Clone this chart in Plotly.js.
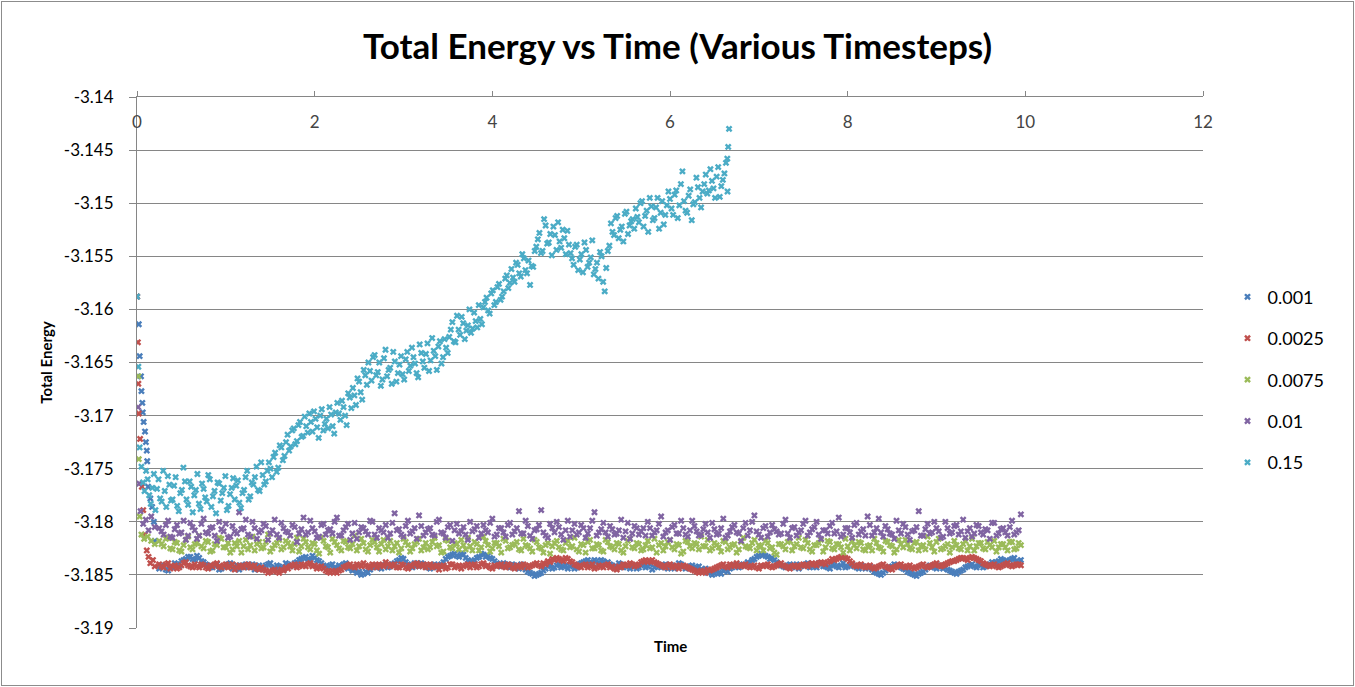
<!DOCTYPE html>
<html>
<head>
<meta charset="utf-8">
<script src="https://cdn.plot.ly/plotly-3.0.1.min.js"></script>
<style>
  body { margin: 0; background: #fff; }
  #chart { position: absolute; left: 0; top: 0; width: 1355px; height: 687px; }
  #frame { position: absolute; left: 1px; top: 1px; width: 1351px; height: 683px; border: 1px solid #8c8c8c; pointer-events: none; }
</style>
</head>
<body>
<div id="chart"></div>
<div id="frame"></div>
<script>
  // legend names (timestep used for each run)
  const names = ['0.001', '0.0025', '0.0075', '0.01', '0.15'];
  const colors = ['#4A7EBB', '#C0504D', '#9BBB59', '#8064A2', '#4BACC6'];

  // start-up transient, read point by point (time, energy)
  const t001Head = [0, 0.02, 0.03, 0.045, 0.05, 0.06, 0.065, 0.075, 0.09, 0.1, 0.11, 0.115, 0.125, 0.15, 0.17, 0.19, 0.2];
  const e001Head = [-3.1588, -3.1614, -3.1644, -3.1663, -3.1677, -3.1688, -3.1697, -3.1706, -3.1715, -3.1725, -3.1733, -3.1743, -3.1767, -3.1778, -3.1786, -3.1800, -3.1818];
  const t0025Head = [0, 0.01, 0.015, 0.02, 0.035, 0.055, 0.07, 0.09, 0.11, 0.13, 0.15, 0.18, 0.2];
  const e0025Head = [-3.1588, -3.1631, -3.1670, -3.1698, -3.1722, -3.1767, -3.1789, -3.1812, -3.1827, -3.1833, -3.1839, -3.1836, -3.1842];
  const t0075Head = [0, 0.015, 0.02, 0.03, 0.05, 0.08, 0.12, 0.16, 0.2];
  const e0075Head = [-3.1588, -3.1663, -3.1741, -3.1795, -3.1812, -3.1816, -3.1814, -3.1818, -3.1821];
  const t01Head = [0, 0.012, 0.025, 0.04, 0.07, 0.1, 0.13, 0.16, 0.2];
  const e01Head = [-3.1588, -3.1692, -3.1764, -3.1790, -3.1802, -3.1798, -3.1808, -3.1795, -3.1805];
  const t15Head = [0, 0.015, 0.03];
  const e15Head = [-3.1588, -3.1654, -3.1730];
  const t15Tail = [6.645, 6.655, 6.665];
  const e15Tail = [-3.1458, -3.1447, -3.1430];

  // sampled runs: flat runs every 0.05 from t = 0.25 (plus the in-between samples),
  // the 0.15 run every 0.035 from t = 0.05 (plus the in-between samples)
  const flatStart = 0.25, flatStep = 0.05;
  const fastStart = 0.05, fastStep = 0.035;

  const e001 = [
    -3.1844, -3.1842, -3.1846, -3.1843, -3.1840, -3.1837, -3.1835, -3.1833, -3.1836, -3.1834,
    -3.1838, -3.1841, -3.1843, -3.1840, -3.1844, -3.1842, -3.1839, -3.1843, -3.1845, -3.1841,
    -3.1843, -3.1840, -3.1842, -3.1844, -3.1841, -3.1839, -3.1843, -3.1842, -3.1845, -3.1840,
    -3.1841, -3.1838, -3.1835, -3.1833, -3.1836, -3.1834, -3.1837, -3.1841, -3.1843, -3.1840,
    -3.1844, -3.1842, -3.1839, -3.1843, -3.1845, -3.1847, -3.1849, -3.1848, -3.1843, -3.1841,
    -3.1844, -3.1840, -3.1842, -3.1839, -3.1836, -3.1835, -3.1840, -3.1843, -3.1841, -3.1839,
    -3.1842, -3.1844, -3.1840, -3.1842, -3.1838, -3.1833, -3.1831, -3.1832, -3.1830, -3.1834,
    -3.1838, -3.1836, -3.1833, -3.1831, -3.1832, -3.1835, -3.1839, -3.1842, -3.1840, -3.1843,
    -3.1841, -3.1844, -3.1842, -3.1847, -3.1849, -3.1850, -3.1848, -3.1844, -3.1841, -3.1843,
    -3.1840, -3.1842, -3.1844, -3.1841, -3.1843, -3.1839, -3.1837, -3.1838, -3.1836, -3.1839,
    -3.1837, -3.1838, -3.1841, -3.1843, -3.1840, -3.1842, -3.1844, -3.1841, -3.1843, -3.1840,
    -3.1842, -3.1845, -3.1841, -3.1843, -3.1840, -3.1842, -3.1844, -3.1839, -3.1842, -3.1843,
    -3.1841, -3.1843, -3.1845, -3.1844, -3.1847, -3.1849, -3.1848, -3.1846, -3.1847, -3.1843,
    -3.1840, -3.1842, -3.1841, -3.1839, -3.1835, -3.1832, -3.1831, -3.1833, -3.1834, -3.1838,
    -3.1841, -3.1843, -3.1840, -3.1842, -3.1844, -3.1841, -3.1839, -3.1842, -3.1843, -3.1840,
    -3.1842, -3.1844, -3.1841, -3.1843, -3.1839, -3.1842, -3.1840, -3.1843, -3.1841, -3.1844,
    -3.1842, -3.1847, -3.1849, -3.1848, -3.1844, -3.1842, -3.1841, -3.1843, -3.1845, -3.1848,
    -3.1850, -3.1849, -3.1847, -3.1843, -3.1842, -3.1844, -3.1841, -3.1843, -3.1846, -3.1848,
    -3.1847, -3.1845, -3.1842, -3.1840, -3.1843, -3.1841, -3.1842, -3.1840, -3.1839, -3.1837,
    -3.1836, -3.1838, -3.1835, -3.1837, -3.1836
  ];
  const e001Mid = [
    -3.1841, -3.1845, -3.1843, -3.1839, -3.1842, -3.1836, -3.1833, -3.1835, -3.1832, -3.1837,
    -3.1840, -3.1843, -3.1841, -3.1845, -3.1842, -3.1840, -3.1844, -3.1841, -3.1843, -3.1840,
    -3.1842, -3.1845, -3.1841, -3.1843, -3.1840, -3.1844, -3.1841, -3.1843, -3.1839, -3.1842,
    -3.1839, -3.1836, -3.1834, -3.1835, -3.1832, -3.1836, -3.1839, -3.1842, -3.1841, -3.1843,
    -3.1841, -3.1840, -3.1844, -3.1846, -3.1848, -3.1850, -3.1847, -3.1845, -3.1842, -3.1843,
    -3.1841, -3.1843, -3.1840, -3.1837, -3.1834, -3.1838, -3.1842, -3.1839, -3.1842, -3.1840,
    -3.1843, -3.1841, -3.1843, -3.1840, -3.1835, -3.1832, -3.1830, -3.1833, -3.1831, -3.1836,
    -3.1837, -3.1834, -3.1830, -3.1833, -3.1834, -3.1837, -3.1841, -3.1839, -3.1842, -3.1840,
    -3.1843, -3.1840, -3.1845, -3.1848, -3.1851, -3.1849, -3.1846, -3.1842, -3.1844, -3.1841,
    -3.1843, -3.1841, -3.1842, -3.1844, -3.1840, -3.1838, -3.1836, -3.1839, -3.1837, -3.1836,
    -3.1839, -3.1840, -3.1842, -3.1839, -3.1843, -3.1841, -3.1842, -3.1844, -3.1841, -3.1843,
    -3.1840, -3.1843, -3.1842, -3.1841, -3.1844, -3.1841, -3.1842, -3.1840, -3.1844, -3.1842,
    -3.1844, -3.1842, -3.1846, -3.1848, -3.1850, -3.1847, -3.1849, -3.1845, -3.1844, -3.1841,
    -3.1843, -3.1840, -3.1838, -3.1836, -3.1833, -3.1830, -3.1832, -3.1835, -3.1836, -3.1840,
    -3.1842, -3.1841, -3.1843, -3.1840, -3.1842, -3.1840, -3.1843, -3.1841, -3.1839, -3.1842,
    -3.1843, -3.1840, -3.1842, -3.1841, -3.1843, -3.1841, -3.1842, -3.1844, -3.1842, -3.1843,
    -3.1845, -3.1848, -3.1850, -3.1846, -3.1843, -3.1840, -3.1842, -3.1844, -3.1847, -3.1849,
    -3.1851, -3.1848, -3.1845, -3.1841, -3.1843, -3.1842, -3.1844, -3.1845, -3.1847, -3.1849,
    -3.1846, -3.1843, -3.1841, -3.1842, -3.1840, -3.1843, -3.1841, -3.1838, -3.1838, -3.1835,
    -3.1837, -3.1836, -3.1834, -3.1838
  ];

  const e0025 = [
    -3.1840, -3.1843, -3.1839, -3.1842, -3.1844, -3.1841, -3.1838, -3.1842, -3.1840, -3.1843,
    -3.1841, -3.1844, -3.1842, -3.1839, -3.1843, -3.1840, -3.1842, -3.1845, -3.1841, -3.1843,
    -3.1840, -3.1842, -3.1844, -3.1843, -3.1846, -3.1847, -3.1845, -3.1848, -3.1846, -3.1844,
    -3.1841, -3.1843, -3.1840, -3.1842, -3.1839, -3.1841, -3.1843, -3.1844, -3.1847, -3.1846,
    -3.1848, -3.1845, -3.1842, -3.1840, -3.1843, -3.1841, -3.1839, -3.1842, -3.1840, -3.1843,
    -3.1841, -3.1838, -3.1842, -3.1840, -3.1843, -3.1841, -3.1844, -3.1842, -3.1839, -3.1841,
    -3.1843, -3.1840, -3.1842, -3.1845, -3.1841, -3.1843, -3.1840, -3.1842, -3.1844, -3.1841,
    -3.1843, -3.1840, -3.1842, -3.1839, -3.1841, -3.1844, -3.1842, -3.1840, -3.1843, -3.1841,
    -3.1844, -3.1842, -3.1840, -3.1843, -3.1841, -3.1839, -3.1842, -3.1840, -3.1838, -3.1836,
    -3.1835, -3.1837, -3.1835, -3.1838, -3.1841, -3.1843, -3.1840, -3.1842, -3.1844, -3.1841,
    -3.1843, -3.1840, -3.1842, -3.1845, -3.1843, -3.1841, -3.1839, -3.1842, -3.1840, -3.1837,
    -3.1838, -3.1836, -3.1839, -3.1841, -3.1843, -3.1840, -3.1842, -3.1844, -3.1841, -3.1843,
    -3.1845, -3.1847, -3.1846, -3.1848, -3.1846, -3.1844, -3.1842, -3.1840, -3.1843, -3.1841,
    -3.1839, -3.1842, -3.1840, -3.1843, -3.1841, -3.1844, -3.1842, -3.1840, -3.1843, -3.1841,
    -3.1839, -3.1842, -3.1844, -3.1841, -3.1843, -3.1840, -3.1842, -3.1839, -3.1841, -3.1838,
    -3.1840, -3.1837, -3.1836, -3.1834, -3.1833, -3.1835, -3.1839, -3.1842, -3.1840, -3.1843,
    -3.1841, -3.1844, -3.1842, -3.1840, -3.1843, -3.1845, -3.1842, -3.1840, -3.1843, -3.1841,
    -3.1844, -3.1842, -3.1840, -3.1843, -3.1841, -3.1839, -3.1842, -3.1840, -3.1838, -3.1837,
    -3.1835, -3.1834, -3.1836, -3.1833, -3.1835, -3.1837, -3.1840, -3.1842, -3.1840, -3.1843,
    -3.1841, -3.1839, -3.1842, -3.1840, -3.1841
  ];
  const e0025Mid = [
    -3.1842, -3.1840, -3.1844, -3.1841, -3.1843, -3.1839, -3.1841, -3.1843, -3.1842, -3.1840,
    -3.1843, -3.1841, -3.1840, -3.1842, -3.1841, -3.1843, -3.1840, -3.1843, -3.1842, -3.1841,
    -3.1843, -3.1841, -3.1845, -3.1845, -3.1848, -3.1846, -3.1847, -3.1845, -3.1843, -3.1842,
    -3.1840, -3.1842, -3.1841, -3.1840, -3.1842, -3.1844, -3.1842, -3.1846, -3.1848, -3.1847,
    -3.1846, -3.1843, -3.1841, -3.1842, -3.1840, -3.1842, -3.1841, -3.1843, -3.1841, -3.1840,
    -3.1842, -3.1840, -3.1841, -3.1843, -3.1840, -3.1843, -3.1841, -3.1840, -3.1842, -3.1840,
    -3.1841, -3.1843, -3.1841, -3.1842, -3.1844, -3.1840, -3.1843, -3.1841, -3.1842, -3.1840,
    -3.1841, -3.1843, -3.1840, -3.1842, -3.1843, -3.1841, -3.1841, -3.1842, -3.1840, -3.1843,
    -3.1841, -3.1843, -3.1841, -3.1842, -3.1840, -3.1841, -3.1839, -3.1837, -3.1835, -3.1834,
    -3.1836, -3.1834, -3.1837, -3.1840, -3.1842, -3.1841, -3.1843, -3.1840, -3.1843, -3.1842,
    -3.1841, -3.1843, -3.1844, -3.1842, -3.1840, -3.1841, -3.1840, -3.1841, -3.1838, -3.1836,
    -3.1837, -3.1838, -3.1840, -3.1842, -3.1841, -3.1843, -3.1841, -3.1842, -3.1842, -3.1844,
    -3.1846, -3.1848, -3.1847, -3.1845, -3.1845, -3.1843, -3.1841, -3.1842, -3.1840, -3.1842,
    -3.1841, -3.1841, -3.1842, -3.1842, -3.1843, -3.1841, -3.1841, -3.1842, -3.1842, -3.1840,
    -3.1841, -3.1843, -3.1842, -3.1842, -3.1841, -3.1841, -3.1840, -3.1840, -3.1839, -3.1839,
    -3.1838, -3.1835, -3.1835, -3.1833, -3.1834, -3.1837, -3.1841, -3.1841, -3.1842, -3.1842,
    -3.1843, -3.1843, -3.1841, -3.1842, -3.1844, -3.1843, -3.1841, -3.1842, -3.1842, -3.1843,
    -3.1843, -3.1841, -3.1842, -3.1842, -3.1840, -3.1841, -3.1841, -3.1839, -3.1837, -3.1836,
    -3.1834, -3.1835, -3.1834, -3.1834, -3.1836, -3.1839, -3.1841, -3.1841, -3.1842, -3.1842,
    -3.1840, -3.1841, -3.1841, -3.1840
  ];

  const e0075 = [
    -3.1818, -3.1823, -3.1815, -3.1826, -3.1820, -3.1828, -3.1817, -3.1824, -3.1821, -3.1813,
    -3.1825, -3.1819, -3.1827, -3.1822, -3.1816, -3.1824, -3.1829, -3.1820, -3.1818, -3.1823,
    -3.1826, -3.1814, -3.1821, -3.1825, -3.1819, -3.1828, -3.1822, -3.1817, -3.1824, -3.1820,
    -3.1827, -3.1815, -3.1823, -3.1819, -3.1826, -3.1821, -3.1830, -3.1818, -3.1824, -3.1816,
    -3.1822, -3.1827, -3.1819, -3.1825, -3.1813, -3.1823, -3.1820, -3.1828, -3.1817, -3.1824,
    -3.1821, -3.1826, -3.1818, -3.1823, -3.1829, -3.1816, -3.1822, -3.1825, -3.1819, -3.1827,
    -3.1820, -3.1824, -3.1815, -3.1822, -3.1828, -3.1818, -3.1825, -3.1821, -3.1817, -3.1826,
    -3.1823, -3.1819, -3.1827, -3.1814, -3.1822, -3.1825, -3.1820, -3.1829, -3.1818, -3.1824,
    -3.1821, -3.1826, -3.1816, -3.1823, -3.1828, -3.1819, -3.1825, -3.1822, -3.1830, -3.1820,
    -3.1824, -3.1827, -3.1818, -3.1823, -3.1826, -3.1821, -3.1829, -3.1817, -3.1825, -3.1822,
    -3.1828, -3.1819, -3.1824, -3.1820, -3.1827, -3.1823, -3.1816, -3.1825, -3.1821, -3.1826,
    -3.1818, -3.1824, -3.1829, -3.1820, -3.1823, -3.1817, -3.1826, -3.1822, -3.1828, -3.1819,
    -3.1825, -3.1821, -3.1814, -3.1823, -3.1827, -3.1820, -3.1824, -3.1818, -3.1826, -3.1822,
    -3.1829, -3.1819, -3.1823, -3.1825, -3.1817, -3.1822, -3.1827, -3.1820, -3.1824, -3.1831,
    -3.1821, -3.1826, -3.1818, -3.1823, -3.1815, -3.1825, -3.1820, -3.1828, -3.1822, -3.1817,
    -3.1824, -3.1819, -3.1826, -3.1821, -3.1829, -3.1823, -3.1818, -3.1825, -3.1820, -3.1827,
    -3.1822, -3.1816, -3.1824, -3.1828, -3.1819, -3.1823, -3.1826, -3.1821, -3.1817, -3.1825,
    -3.1820, -3.1827, -3.1822, -3.1814, -3.1824, -3.1819, -3.1826, -3.1823, -3.1829, -3.1818,
    -3.1825, -3.1821, -3.1827, -3.1816, -3.1823, -3.1820, -3.1826, -3.1822, -3.1818, -3.1824,
    -3.1821, -3.1827, -3.1819, -3.1825, -3.1822
  ];
  const e0075Mid = [
    -3.1821, -3.1816, -3.1825, -3.1819, -3.1827, -3.1822, -3.1814, -3.1826, -3.1820, -3.1823,
    -3.1818, -3.1828, -3.1821, -3.1815, -3.1824, -3.1820, -3.1826, -3.1823, -3.1829, -3.1817,
    -3.1822, -3.1827, -3.1819, -3.1824, -3.1812, -3.1825, -3.1820, -3.1826, -3.1818, -3.1823,
    -3.1821, -3.1828, -3.1816, -3.1824, -3.1820, -3.1827, -3.1815, -3.1823, -3.1829, -3.1819,
    -3.1825, -3.1818, -3.1824, -3.1821, -3.1827, -3.1816, -3.1826, -3.1822, -3.1819, -3.1828,
    -3.1817, -3.1823, -3.1827, -3.1820, -3.1825, -3.1819, -3.1828, -3.1821, -3.1816, -3.1824,
    -3.1826, -3.1819, -3.1823, -3.1829, -3.1817, -3.1824, -3.1820, -3.1826, -3.1822, -3.1815,
    -3.1827, -3.1821, -3.1824, -3.1818, -3.1828, -3.1820, -3.1823, -3.1816, -3.1825, -3.1822,
    -3.1819, -3.1827, -3.1822, -3.1825, -3.1817, -3.1824, -3.1829, -3.1820, -3.1823, -3.1818,
    -3.1826, -3.1820, -3.1824, -3.1815, -3.1828, -3.1822, -3.1819, -3.1825, -3.1821, -3.1827,
    -3.1817, -3.1823, -3.1826, -3.1821, -3.1829, -3.1818, -3.1824, -3.1820, -3.1827, -3.1822,
    -3.1825, -3.1816, -3.1822, -3.1827, -3.1819, -3.1824, -3.1821, -3.1830, -3.1818, -3.1823,
    -3.1820, -3.1826, -3.1823, -3.1817, -3.1825, -3.1822, -3.1828, -3.1819, -3.1824, -3.1821,
    -3.1826, -3.1815, -3.1824, -3.1820, -3.1827, -3.1823, -3.1818, -3.1825, -3.1829, -3.1821,
    -3.1823, -3.1819, -3.1827, -3.1821, -3.1824, -3.1817, -3.1826, -3.1822, -3.1820, -3.1828,
    -3.1818, -3.1825, -3.1821, -3.1824, -3.1816, -3.1827, -3.1822, -3.1819, -3.1826, -3.1823,
    -3.1827, -3.1820, -3.1825, -3.1818, -3.1822, -3.1829, -3.1817, -3.1824, -3.1821, -3.1826,
    -3.1819, -3.1823, -3.1826, -3.1820, -3.1828, -3.1816, -3.1825, -3.1821, -3.1824, -3.1822,
    -3.1826, -3.1818, -3.1823, -3.1827, -3.1820, -3.1825, -3.1819, -3.1824, -3.1828, -3.1821,
    -3.1824, -3.1819, -3.1826, -3.1820
  ];

  const e01 = [
    -3.1806, -3.1812, -3.1799, -3.1815, -3.1803, -3.1810, -3.1817, -3.1801, -3.1808, -3.1813,
    -3.1797, -3.1811, -3.1805, -3.1818, -3.1807, -3.1802, -3.1814, -3.1809, -3.1791, -3.1806,
    -3.1812, -3.1800, -3.1816, -3.1808, -3.1804, -3.1811, -3.1798, -3.1815, -3.1806, -3.1810,
    -3.1803, -3.1819, -3.1807, -3.1812, -3.1799, -3.1809, -3.1814, -3.1802, -3.1808, -3.1811,
    -3.1796, -3.1813, -3.1805, -3.1817, -3.1801, -3.1810, -3.1806, -3.1812, -3.1800, -3.1815,
    -3.1808, -3.1803, -3.1811, -3.1792, -3.1807, -3.1814, -3.1799, -3.1809, -3.1816, -3.1804,
    -3.1810, -3.1806, -3.1813, -3.1798, -3.1811, -3.1805, -3.1818, -3.1802, -3.1809, -3.1812,
    -3.1800, -3.1807, -3.1815, -3.1803, -3.1810, -3.1797, -3.1812, -3.1806, -3.1814, -3.1801,
    -3.1809, -3.1790, -3.1811, -3.1804, -3.1816, -3.1807, -3.1789, -3.1813, -3.1802, -3.1810,
    -3.1805, -3.1817, -3.1799, -3.1808, -3.1812, -3.1803, -3.1815, -3.1806, -3.1791, -3.1810,
    -3.1801, -3.1814, -3.1807, -3.1811, -3.1798, -3.1809, -3.1816, -3.1804, -3.1812, -3.1806,
    -3.1800, -3.1813, -3.1808, -3.1795, -3.1810, -3.1817, -3.1803, -3.1811, -3.1806, -3.1814,
    -3.1799, -3.1809, -3.1812, -3.1802, -3.1815, -3.1807, -3.1811, -3.1797, -3.1813, -3.1805,
    -3.1810, -3.1818, -3.1801, -3.1808, -3.1794, -3.1812, -3.1806, -3.1814, -3.1803, -3.1809,
    -3.1811, -3.1798, -3.1815, -3.1805, -3.1810, -3.1802, -3.1813, -3.1807, -3.1800, -3.1816,
    -3.1808, -3.1804, -3.1811, -3.1796, -3.1812, -3.1806, -3.1815, -3.1801, -3.1809, -3.1813,
    -3.1803, -3.1810, -3.1797, -3.1814, -3.1807, -3.1812, -3.1799, -3.1811, -3.1805, -3.1817,
    -3.1808, -3.1790, -3.1813, -3.1802, -3.1810, -3.1806, -3.1815, -3.1800, -3.1811, -3.1804,
    -3.1812, -3.1798, -3.1809, -3.1814, -3.1803, -3.1810, -3.1807, -3.1816, -3.1801, -3.1811,
    -3.1806, -3.1813, -3.1799, -3.1810, -3.1793
  ];
  const e01Mid = [
    -3.1809, -3.1803, -3.1814, -3.1807, -3.1811, -3.1799, -3.1813, -3.1805, -3.1816, -3.1802,
    -3.1810, -3.1806, -3.1813, -3.1800, -3.1809, -3.1815, -3.1804, -3.1811, -3.1807, -3.1798,
    -3.1814, -3.1806, -3.1810, -3.1802, -3.1817, -3.1808, -3.1812, -3.1801, -3.1809, -3.1813,
    -3.1805, -3.1811, -3.1796, -3.1810, -3.1806, -3.1815, -3.1803, -3.1812, -3.1807, -3.1800,
    -3.1813, -3.1808, -3.1802, -3.1811, -3.1816, -3.1805, -3.1809, -3.1799, -3.1812, -3.1806,
    -3.1810, -3.1815, -3.1801, -3.1808, -3.1812, -3.1804, -3.1811, -3.1806, -3.1794, -3.1813,
    -3.1807, -3.1812, -3.1800, -3.1810, -3.1815, -3.1803, -3.1808, -3.1811, -3.1805, -3.1817,
    -3.1809, -3.1804, -3.1811, -3.1808, -3.1801, -3.1814, -3.1806, -3.1810, -3.1803, -3.1812,
    -3.1806, -3.1811, -3.1799, -3.1813, -3.1808, -3.1803, -3.1810, -3.1815, -3.1806, -3.1800,
    -3.1812, -3.1808, -3.1814, -3.1802, -3.1810, -3.1806, -3.1811, -3.1799, -3.1813, -3.1807,
    -3.1810, -3.1804, -3.1812, -3.1808, -3.1815, -3.1801, -3.1811, -3.1806, -3.1809, -3.1813,
    -3.1806, -3.1810, -3.1802, -3.1814, -3.1808, -3.1805, -3.1811, -3.1799, -3.1812, -3.1808,
    -3.1804, -3.1813, -3.1807, -3.1810, -3.1801, -3.1812, -3.1806, -3.1815, -3.1809, -3.1803,
    -3.1811, -3.1806, -3.1813, -3.1800, -3.1809, -3.1815, -3.1804, -3.1810, -3.1807, -3.1812,
    -3.1802, -3.1811, -3.1806, -3.1813, -3.1808, -3.1799, -3.1810, -3.1805, -3.1812, -3.1808,
    -3.1811, -3.1801, -3.1809, -3.1814, -3.1806, -3.1810, -3.1803, -3.1812, -3.1807, -3.1795,
    -3.1813, -3.1806, -3.1810, -3.1804, -3.1811, -3.1816, -3.1808, -3.1802, -3.1812, -3.1809,
    -3.1805, -3.1813, -3.1807, -3.1811, -3.1800, -3.1809, -3.1814, -3.1806, -3.1810, -3.1803,
    -3.1809, -3.1815, -3.1806, -3.1811, -3.1804, -3.1812, -3.1808, -3.1801, -3.1813, -3.1807,
    -3.1810, -3.1805, -3.1812, -3.1808
  ];

  const e15 = [
    -3.1748, -3.1771, -3.1760, -3.1783, -3.1755, -3.1769, -3.1778, -3.1752, -3.1786, -3.1765,
    -3.1779, -3.1758, -3.1790, -3.1770, -3.1762, -3.1784, -3.1767, -3.1775, -3.1755, -3.1788,
    -3.1769, -3.1781, -3.1760, -3.1776, -3.1792, -3.1764, -3.1773, -3.1757, -3.1785, -3.1768,
    -3.1779, -3.1761, -3.1787, -3.1770, -3.1752, -3.1776,
    -3.1765, -3.1748, -3.1771, -3.1756, -3.1762,
    -3.1744, -3.1758, -3.1735, -3.1749, -3.1730,
    -3.1738, -3.1718, -3.1729, -3.1712, -3.1724, -3.1706, -3.1719,
    -3.1710, -3.1698, -3.1715, -3.1703, -3.1721, -3.1694, -3.1708, -3.1712, -3.1699, -3.1717,
    -3.1688, -3.1704, -3.1692, -3.1709, -3.1683,
    -3.1674, -3.1690, -3.1668, -3.1685, -3.1662,
    -3.1650, -3.1667, -3.1643, -3.1659, -3.1672, -3.1646, -3.1663, -3.1655, -3.1640, -3.1668, -3.1652, -3.1661,
    -3.1647, -3.1658, -3.1636, -3.1651, -3.1664, -3.1641, -3.1655, -3.1632, -3.1648, -3.1639, -3.1657, -3.1630, -3.1645, -3.1636,
    -3.1626, -3.1612, -3.1631, -3.1619, -3.1607, -3.1628, -3.1615, -3.1622, -3.1603, -3.1617, -3.1609,
    -3.1598, -3.1589, -3.1604, -3.1582, -3.1593, -3.1576, -3.1588, -3.1571, -3.1580,
    -3.1562, -3.1574, -3.1558, -3.1569, -3.1552, -3.1566, -3.1577, -3.1560,
    -3.1541, -3.1528, -3.1545, -3.1521, -3.1537, -3.1549, -3.1530, -3.1518, -3.1542, -3.1533, -3.1526,
    -3.1547, -3.1558, -3.1539, -3.1553, -3.1565, -3.1544, -3.1556, -3.1535, -3.1562, -3.1571, -3.1550, -3.1583, -3.1545,
    -3.1519, -3.1530, -3.1512, -3.1525, -3.1536, -3.1508, -3.1521, -3.1515,
    -3.1505, -3.1518, -3.1498, -3.1512, -3.1527, -3.1503, -3.1514, -3.1495, -3.1509, -3.1520, -3.1502,
    -3.1496, -3.1511, -3.1488, -3.1502, -3.1470, -3.1507, -3.1493, -3.1516, -3.1499, -3.1485, -3.1504,
    -3.1482, -3.1491, -3.1468, -3.1486, -3.1475, -3.1494, -3.1478, -3.1462
  ];
  const e15Mid = [
    -3.1763, -3.1752, -3.1775, -3.1768, -3.1789, -3.1760, -3.1781, -3.1771, -3.1757, -3.1780,
    -3.1766, -3.1785, -3.1773, -3.1749, -3.1779, -3.1762, -3.1791, -3.1770, -3.1783, -3.1764,
    -3.1777, -3.1756, -3.1786, -3.1771, -3.1763, -3.1780, -3.1768, -3.1789, -3.1774, -3.1759,
    -3.1766, -3.1782, -3.1773, -3.1758, -3.1779, -3.1763,
    -3.1758, -3.1770, -3.1744, -3.1765, -3.1752,
    -3.1750, -3.1739, -3.1753, -3.1728, -3.1742,
    -3.1725, -3.1733, -3.1714, -3.1727, -3.1709, -3.1720, -3.1701,
    -3.1716, -3.1706, -3.1696, -3.1711, -3.1700, -3.1714, -3.1703, -3.1692, -3.1710, -3.1697,
    -3.1698, -3.1686, -3.1700, -3.1679, -3.1693,
    -3.1681, -3.1665, -3.1678, -3.1657, -3.1671,
    -3.1658, -3.1645, -3.1662, -3.1650, -3.1666, -3.1638, -3.1657, -3.1670, -3.1649, -3.1660, -3.1644, -3.1666,
    -3.1640, -3.1653, -3.1645, -3.1660, -3.1633, -3.1649, -3.1642, -3.1658, -3.1627, -3.1644, -3.1635, -3.1651, -3.1628, -3.1641,
    -3.1619, -3.1630, -3.1606, -3.1624, -3.1613, -3.1620, -3.1600, -3.1618, -3.1611, -3.1596, -3.1614,
    -3.1593, -3.1601, -3.1585, -3.1596, -3.1579, -3.1591, -3.1583, -3.1568, -3.1575,
    -3.1570, -3.1556, -3.1566, -3.1548, -3.1563, -3.1554, -3.1559, -3.1545,
    -3.1534, -3.1547, -3.1515, -3.1538, -3.1529, -3.1522, -3.1544, -3.1536, -3.1525, -3.1548, -3.1539,
    -3.1552, -3.1541, -3.1563, -3.1548, -3.1537, -3.1560, -3.1551, -3.1567, -3.1556, -3.1546, -3.1574, -3.1561, -3.1540,
    -3.1527, -3.1514, -3.1533, -3.1522, -3.1510, -3.1529, -3.1517, -3.1524,
    -3.1513, -3.1500, -3.1522, -3.1507, -3.1495, -3.1516, -3.1504, -3.1524, -3.1498, -3.1511, -3.1489,
    -3.1505, -3.1492, -3.1514, -3.1482, -3.1498, -3.1509, -3.1487, -3.1501, -3.1476, -3.1495, -3.1489,
    -3.1473, -3.1488, -3.1479, -3.1495, -3.1466, -3.1484, -3.1472, -3.1489
  ];

  // y axis tick labels
  const yTickVals = [-3.14, -3.145, -3.15, -3.155, -3.16, -3.165, -3.17, -3.175, -3.18, -3.185, -3.19];
  const yTickText = ['-3.14', '-3.145', '-3.15', '-3.155', '-3.16', '-3.165', '-3.17', '-3.175', '-3.18', '-3.185', '-3.19'];

  function sampled(start, step, values) {
    return values.map((v, i) => +(start + i * step).toFixed(4));
  }

  function run(headT, headE, start, step, vals, mid, tailT, tailE) {
    const x = headT.concat(sampled(start, step, vals), sampled(start + step / 2, step, mid), tailT || []);
    const y = headE.concat(vals, mid, tailE || []);
    return {x: x, y: y};
  }

  const runs = [
    run(t001Head, e001Head, flatStart, flatStep, e001, e001Mid),
    run(t0025Head, e0025Head, flatStart, flatStep, e0025, e0025Mid),
    run(t0075Head, e0075Head, flatStart, flatStep, e0075, e0075Mid),
    run(t01Head, e01Head, flatStart, flatStep, e01, e01Mid),
    run(t15Head, e15Head, fastStart, fastStep, e15, e15Mid, t15Tail, e15Tail)
  ];

  const FONT = 'Lato, "Open Sans", sans-serif';

  const data = runs.map((r, i) => ({
    type: 'scatter',
    mode: 'markers',
    name: names[i],
    legendgroup: 'g' + i,
    x: r.x,
    y: r.y,
    marker: {symbol: 'x', size: 6, color: colors[i]},
    hoverinfo: 'x+y+name'
  }));

  const layout = {
    width: 1355,
    height: 687,
    margin: {l: 137, r: 152, t: 97, b: 59},
    paper_bgcolor: '#fff',
    plot_bgcolor: '#fff',
    font: {family: FONT, size: 17, color: '#000'},
    title: {
      text: 'Total Energy vs Time (Various Timesteps)',
      font: {family: FONT, size: 35, color: '#000', weight: 'bold'},
      x: 0.5, xref: 'container', xanchor: 'center',
      y: 1 - 47 / 687, yref: 'container', yanchor: 'middle'
    },
    xaxis: {
      range: [0, 12],
      dtick: 2,
      side: 'top',
      ticks: 'outside',
      ticklen: 5,
      tickcolor: '#868686',
      ticklabelposition: 'inside',
      ticklabeloverflow: 'allow',
      ticklabelstandoff: 20,
      showline: true,
      linecolor: '#868686',
      showgrid: false,
      zeroline: false,
      tickfont: {size: 17}
    },
    yaxis: {
      range: [-3.19, -3.14],
      tickvals: yTickVals,
      ticktext: yTickText,
      ticks: 'outside',
      ticklen: 7,
      tickcolor: '#868686',
      ticklabelstandoff: 12,
      ticklabeloverflow: 'allow',
      showline: true,
      linecolor: '#868686',
      showgrid: true,
      gridcolor: '#868686',
      gridwidth: 1,
      zeroline: false,
      tickfont: {size: 17},
      title: {text: 'Total Energy', font: {size: 15, weight: 'bold'}, standoff: 7}
    },
    legend: {
      x: 1.023, xanchor: 'left',
      y: 0.658, yanchor: 'top',
      traceorder: 'grouped',
      tracegroupgap: 15,
      font: {size: 18},
      bgcolor: 'rgba(0,0,0,0)'
    },
    annotations: [{
      text: '<b>Time</b>',
      xref: 'paper', yref: 'paper',
      x: 0.5, y: -18 / 531,
      xanchor: 'center', yanchor: 'middle',
      showarrow: false,
      font: {size: 15}
    }],
    showlegend: true
  };

  Plotly.newPlot('chart', data, layout, {displayModeBar: false, staticPlot: true});
</script>
</body>
</html>
